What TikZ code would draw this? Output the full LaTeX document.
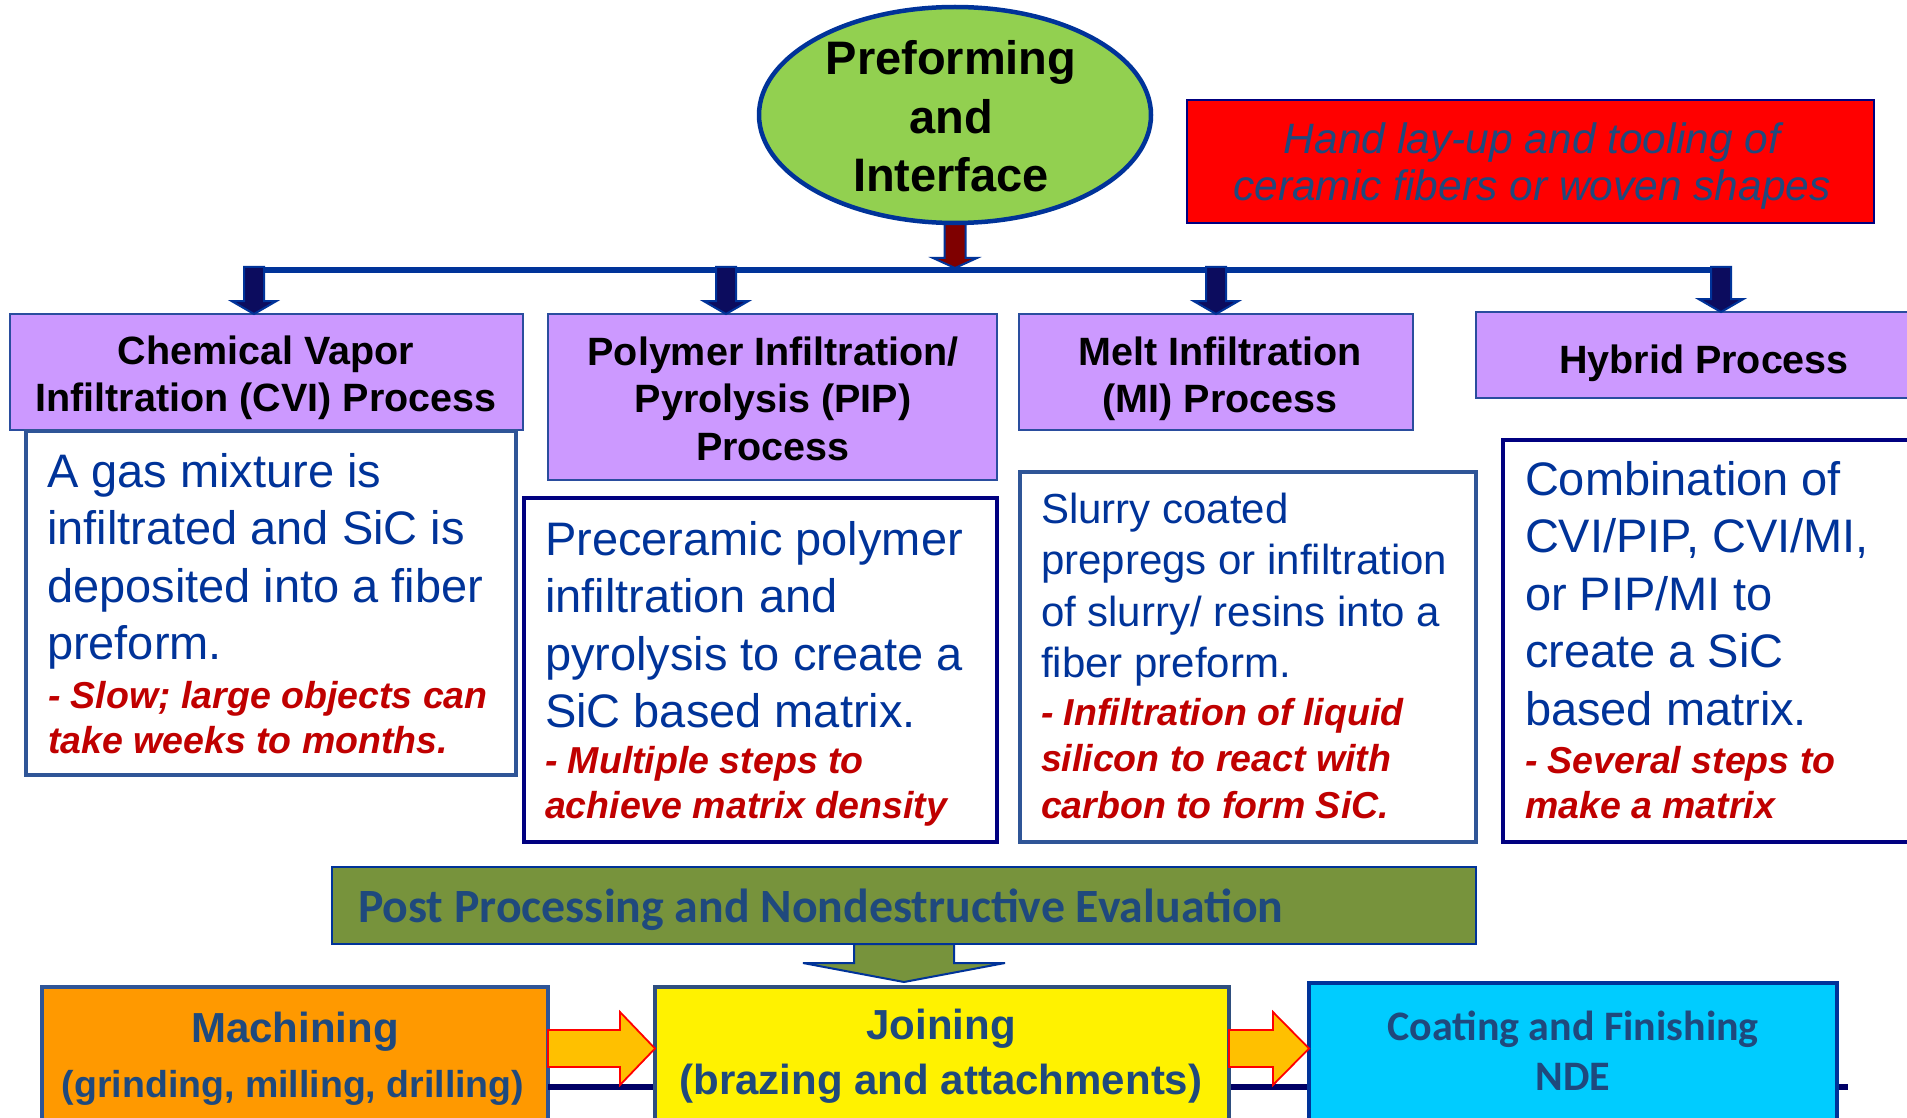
\documentclass[tikz,border=0pt]{standalone}
\usepackage{fontspec}
\setmainfont{Liberation Sans}
\newfontfamily\calfont{Carlito}
\usetikzlibrary{calc,shapes.geometric}

\definecolor{bordblue}{HTML}{003399}
\definecolor{purp}{HTML}{CC99FF}
\definecolor{titleborder}{HTML}{2A4D9E}
\definecolor{slateb}{HTML}{2F5597}
\definecolor{navyb}{HTML}{000080}
\definecolor{txtblue}{HTML}{003399}
\definecolor{redtxt}{HTML}{C00000}
\definecolor{arrfill}{HTML}{0C0C5E}
\definecolor{stemfill}{HTML}{7F0000}
\definecolor{olive}{HTML}{77933C}
\definecolor{slatetxt}{HTML}{1F497D}
\definecolor{orng}{HTML}{FF9900}
\definecolor{goldf}{HTML}{FFC000}
\definecolor{cyanb}{HTML}{00CCFF}
\definecolor{greenell}{HTML}{92D050}
\definecolor{navyline}{HTML}{000066}
\definecolor{joinborder}{HTML}{2F4F7F}

\newcommand\cpar[2]{\parbox[t]{#1}{\centering #2}}
\newcommand\lpar[2]{\parbox[t]{#1}{\raggedright #2}}
% vertical block arrow: style, from, to, shaft half, head half, head length
\newcommand\vblock[6]{%
  \path[#1] let \p1=(#2), \p2=(#3) in
  (\x1-#4pt,\y1) -- (\x1+#4pt,\y1) -- (\x1+#4pt,\y2+#6pt) -- (\x1+#5pt,\y2+#6pt)
  -- (\x1,\y2) -- (\x1-#5pt,\y2+#6pt) -- (\x1-#4pt,\y2+#6pt) -- cycle;}
% horizontal block arrow (to the right)
\newcommand\hblock[6]{%
  \path[#1] let \p1=(#2), \p2=(#3) in
  (\x1,\y1+#4pt) -- (\x2-#6pt,\y1+#4pt) -- (\x2-#6pt,\y1+#5pt) -- (\x2,\y1)
  -- (\x2-#6pt,\y1-#5pt) -- (\x2-#6pt,\y1-#4pt) -- (\x1,\y1-#4pt) -- cycle;}

\begin{document}
\begin{tikzpicture}[x=1pt,y=-1pt,
  tx/.style={inner sep=0, outer sep=0},
  ttl/.style={tx, anchor=base, font=\fontsize{39.5}{47.5}\selectfont\bfseries},
  dsc/.style={tx, anchor=base west, text=txtblue, font=\fontsize{47}{57.5}\selectfont},
  dscs/.style={tx, anchor=base west, text=txtblue, font=\fontsize{42}{51.5}\selectfont},
  rd/.style={tx, anchor=base west, text=redtxt, font=\fontsize{37.5}{45}\selectfont\bfseries\itshape},
  bx/.style={rectangle, inner sep=0, outer sep=0},
  ttlbox/.style={bx, fill=purp, draw=titleborder, line width=2.5},
  dboxA/.style={bx, fill=white, draw=slateb, line width=3.5},
  dboxB/.style={bx, fill=white, draw=navyb, line width=4.5},
  darr/.style={fill=arrfill, draw=bordblue, line width=2, line join=miter},
  stemarr/.style={fill=stemfill, draw=bordblue, line width=2, line join=miter},
  postarr/.style={fill=olive, draw=bordblue, line width=2, line join=miter},
  orarr/.style={fill=goldf, draw=red, line width=1.8, line join=miter},
  bartop/.style={draw=bordblue, line width=6},
  botline/.style={draw=navyline, line width=6},
  btxt/.style={tx, anchor=base, text=slatetxt},
]
\useasboundingbox (0,0) rectangle (1907,1118);
\fill[white] (0,0) rectangle (1907,1118);
\clip (0,0) rectangle (1907,1118);

% ---------- boxes ----------
\node[bx, fill=red, draw=navyb, line width=2, minimum width=687, minimum height=123] (redb) at (1530.5,161.5) {};

\node[ttlbox, minimum width=513, minimum height=116] (cvi) at (266.5,372) {};
\node[ttlbox, minimum width=449, minimum height=166] (pip) at (772.5,397) {};
\node[ttlbox, minimum width=394, minimum height=116] (mi)  at (1216,372) {};
\node[ttlbox, minimum width=456, minimum height=86]  (hyb) at (1704,355) {};

\node[dboxA, minimum width=490, minimum height=344] (cvid) at (271,603) {};
\node[dboxB, minimum width=473, minimum height=344] (pipd) at (760.5,670) {};
\node[dboxA, minimum width=456, minimum height=370] (mid)  at (1248,657) {};
\node[dboxB, minimum width=447, minimum height=402] (hybd) at (1726.5,641) {};

% bottom navy line (behind bottom boxes)
\coordinate (lineend) at (1848,1087);
\coordinate (arrowrow) at (0,1048.5);

\node[bx, fill=olive, draw=bordblue, line width=2.5, minimum width=1144, minimum height=77] (post) at (904,905.5) {};

\node[bx, fill=orng, draw=slateb, line width=3.5, minimum width=506, minimum height=153] (mach) at (295,1063.5) {};
\draw[botline] (mach.east |- lineend) -- (lineend);
\node[bx, fill=yellow, draw=joinborder, line width=3.5, minimum width=574, minimum height=153] (jn) at (942,1063.5) {};
\node[bx, fill=cyanb, draw=bordblue, line width=4, minimum width=528, minimum height=157] (coat) at (1573,1061.5) {};

% ---------- top connectors ----------
\coordinate (bar) at (955,270);
\coordinate (bartopc) at (955,267);
\coordinate (stemtip) at (955,268);
\coordinate (a1) at (254,314);
\coordinate (a2) at (726,314);
\coordinate (a3) at (1216,314);
\coordinate (a4) at (1721,312);

\draw[bartop] ($(a1 |- bar)+(-10,0)$) -- ($(a4 |- bar)+(10,0)$);

\node[ellipse, minimum width=392, minimum height=216, inner sep=0] (pishape) at (955,115) {};
\vblock{stemarr}{pishape.south}{stemtip}{10.5}{22}{10}
\node[ellipse, fill=greenell, draw=bordblue, line width=4.5, minimum width=392, minimum height=216, inner sep=0] (pi) at (955,115) {};

\vblock{darr}{a1 |- bartopc}{a1}{10}{22.5}{13}
\vblock{darr}{a2 |- bartopc}{a2}{10}{22.5}{13}
\vblock{darr}{a3 |- bartopc}{a3}{10}{22.5}{13}
\vblock{darr}{a4 |- bartopc}{a4}{10}{22.5}{13}

% ---------- bottom connectors ----------
\coordinate (ptip) at (904,982);
\vblock{postarr}{post.south}{ptip}{50}{101}{19}
\hblock{orarr}{mach.east |- arrowrow}{jn.west |- arrowrow}{18.5}{36.5}{35}
\hblock{orarr}{jn.east |- arrowrow}{coat.west |- arrowrow}{18.5}{36.5}{36}

% ---------- texts ----------
\node[tx, anchor=base, font=\fontsize{47}{58.5}\selectfont\bfseries] (pitxt) at (951,75)
  {\cpar{400pt}{Preforming\\and\\Interface}};

\node[tx, anchor=base, text=slatetxt, font=\fontsize{42.5}{47}\selectfont\itshape] (redtxt) at (1532,154)
  {\cpar{700pt}{Hand lay-up and tooling of\\ceramic fibers or woven shapes}};

\node[ttl] (cvittl) at (266,364) {\cpar{560pt}{Chemical Vapor\\Infiltration (CVI) Process}};
\node[ttl] (pipttl) at (773,365) {\cpar{500pt}{Polymer Infiltration/\\Pyrolysis (PIP)\\Process}};
\node[ttl] (mittl)  at (1220,365) {\cpar{450pt}{Melt Infiltration\\(MI) Process}};
\node[ttl] (hybttl) at (1704,373) {Hybrid Process};

\node[dsc] (cvitxt) at (47,487) {\lpar{600pt}{A gas mixture is\\infiltrated and SiC is\\deposited into a fiber\\preform.}};
\node[rd]  (cvired) at (48,708) {\lpar{600pt}{- Slow; large objects can\\take weeks to months.}};

\node[dsc] (piptxt) at (545,555) {\lpar{600pt}{Preceramic polymer\\infiltration and\\pyrolysis to create a\\SiC based matrix.}};
\node[rd]  (pipred) at (545,773) {\lpar{600pt}{- Multiple steps to\\achieve matrix density}};

\node[dscs] (mitxt) at (1041,523) {\lpar{600pt}{Slurry coated\\prepregs or infiltration\\of slurry/ resins into a\\fiber preform.}};
\node[rd, font=\fontsize{37.5}{46.5}\selectfont\bfseries\itshape] (mired) at (1041,725) {\lpar{600pt}{- Infiltration of liquid\\silicon to react with\\carbon to form SiC.}};

\node[dsc] (hybtxt) at (1525,495) {\lpar{600pt}{Combination of\\CVI/PIP, CVI/MI,\\or PIP/MI to\\create a SiC\\based matrix.}};
\node[rd]  (hybred) at (1525,773) {\lpar{600pt}{- Several steps to\\make a matrix}};

\node[tx, anchor=base west, text=slatetxt, font=\calfont\fontsize{47.8}{56}\selectfont\bfseries] (posttxt) at (358,922)
  {Post Processing and Nondestructive Evaluation};

\node[btxt, font=\fontsize{42}{50}\selectfont\bfseries] (machtxt) at (295,1042) {Machining};
\node[btxt, font=\fontsize{37.5}{45}\selectfont\bfseries] (machsub) at (293,1097) {(grinding, milling, drilling)};
\node[btxt, font=\fontsize{42}{55}\selectfont\bfseries] (jntxt) at (941,1039) {\cpar{600pt}{Joining\\(brazing and attachments)}};
\node[btxt, font=\calfont\fontsize{42}{50}\selectfont\bfseries] (coattxt) at (1573,1040) {\cpar{520pt}{Coating and Finishing\\NDE}};
\end{tikzpicture}
\end{document}
